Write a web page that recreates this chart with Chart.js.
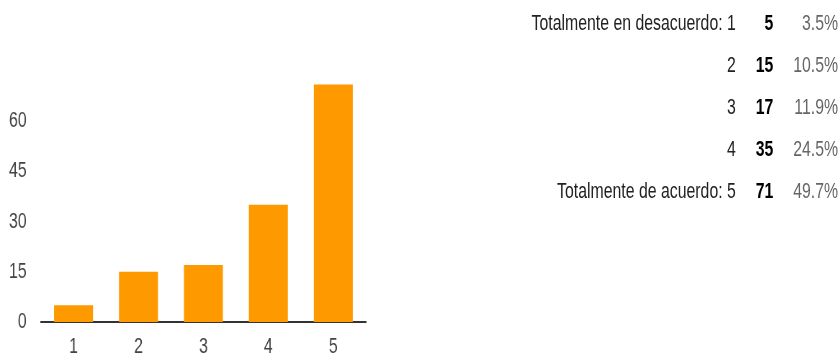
<!DOCTYPE html>
<html>
<head>
<meta charset="utf-8">
<script src="https://cdn.jsdelivr.net/npm/chart.js@4"></script>
<style>
  html, body { margin: 0; padding: 0; background: #fff; overflow: hidden; width: 840px; height: 354px; }
  /* narrow lettering: the whole stage is laid out wide and compressed horizontally */
  #stage { position: absolute; left: 0; top: 0; width: 1167px; height: 354px; overflow: hidden;
           transform: scaleX(0.72); transform-origin: 0 0; }
  #chart { position: absolute; left: 0; top: 0; }
  #summary { position: absolute; top: 2px; right: 3px;
             font-family: "Liberation Sans", Arial, sans-serif; font-size: 22px; line-height: 42px; }
  .row { display: flex; justify-content: flex-end; white-space: nowrap; }
  .lbl { color: #222; text-align: right; }
  .cnt { color: #000; font-weight: bold; width: 52px; text-align: right; }
  .pct { color: #666; width: 90px; text-align: right; }
</style>
</head>
<body>
<div id="stage">
  <canvas id="chart" width="520" height="380"></canvas>
  <div id="summary"></div>
</div>
<script>
// Answers on the 1–5 agreement scale and how many people chose each
const categories = ['1', '2', '3', '4', '5'];
const responses = [5, 15, 17, 35, 71];
const yTicks = [0, 15, 30, 45, 60];
const answerLabels = ['Totalmente en desacuerdo: 1', '2', '3', '4', 'Totalmente de acuerdo: 5'];

const total = responses.reduce((a, b) => a + b, 0);

// summary table: answer, count, share of all responses
const summary = document.getElementById('summary');
answerLabels.forEach((label, i) => {
  const row = document.createElement('div');
  row.className = 'row';
  const l = document.createElement('span'); l.className = 'lbl'; l.textContent = label;
  const c = document.createElement('span'); c.className = 'cnt'; c.textContent = String(responses[i]);
  const p = document.createElement('span'); p.className = 'pct';
  p.textContent = (responses[i] / total * 100).toFixed(1) + '%';
  row.append(l, c, p);
  summary.appendChild(row);
});

const tickFont = { family: '"Liberation Sans", Arial, sans-serif', size: 22 };

new Chart(document.getElementById('chart'), {
  type: 'bar',
  data: {
    labels: categories,
    datasets: [{
      data: responses,
      backgroundColor: '#ff9900',
      borderWidth: 0,
      barPercentage: 0.6,
      categoryPercentage: 1
    }]
  },
  options: {
    responsive: false,
    animation: false,
    devicePixelRatio: 1,
    layout: { padding: { top: 71, right: 12, left: 0, bottom: 0 } },
    plugins: { legend: { display: false }, tooltip: { enabled: false } },
    scales: {
      x: {
        grid: { display: false, drawTicks: false },
        border: { display: true, color: '#333', width: 2 },
        ticks: { font: tickFont, color: '#444', padding: 12 },
        afterFit(scale) { scale.height = 58; }
      },
      y: {
        min: 0,
        max: 75,
        grid: { display: false, drawTicks: false },
        border: { display: false },
        ticks: {
          stepSize: 15,
          padding: 20,
          font: tickFont,
          color: '#444',
          callback: v => (yTicks.includes(v) ? String(v) : '')
        },
        afterFit(scale) { scale.width = 57; }
      }
    }
  }
});
</script>
</body>
</html>
